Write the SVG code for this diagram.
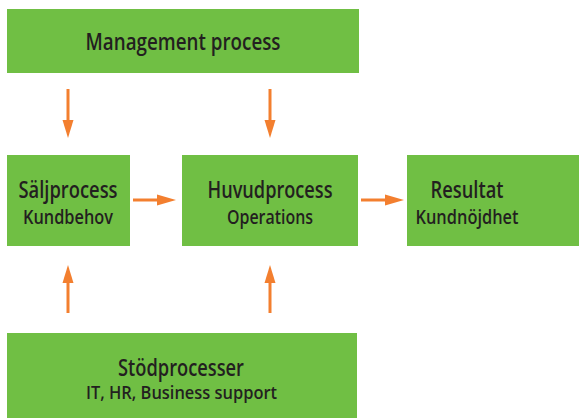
<svg xmlns="http://www.w3.org/2000/svg" width="579" height="418" viewBox="0 0 579 418">
<style>
.box{fill:#70BF44}
.t{font-family:"Open Sans","Liberation Sans",Arial,sans-serif;font-weight:600;fill:#231F20;text-anchor:middle}
.m{font-size:22.5px}
.s{font-size:19px}
.c{stroke:#F37F2F;stroke-width:3;fill:none}
.h{fill:#F37F2F}
</style>
<rect width="579" height="418" fill="#fff"/>
<g id="management">
<rect class="box" x="7" y="9" width="352" height="64"/>
<text class="t m" x="183" y="50" textLength="195" lengthAdjust="spacingAndGlyphs" style="font-size:23px">Management process</text>
</g>
<g id="saljprocess">
<rect class="box" x="7" y="155" width="123" height="91"/>
<text class="t m" x="68" y="198" textLength="99" lengthAdjust="spacingAndGlyphs">Säljprocess</text>
<text class="t s" x="68" y="224" textLength="90" lengthAdjust="spacingAndGlyphs">Kundbehov</text>
</g>
<g id="huvudprocess">
<rect class="box" x="182" y="155" width="176" height="91"/>
<text class="t m" x="270" y="198" textLength="125" lengthAdjust="spacingAndGlyphs">Huvudprocess</text>
<text class="t s" x="270" y="224" textLength="86" lengthAdjust="spacingAndGlyphs">Operations</text>
</g>
<g id="resultat">
<rect class="box" x="407" y="155" width="172" height="91"/>
<text class="t m" x="467" y="198" textLength="73" lengthAdjust="spacingAndGlyphs">Resultat</text>
<text class="t s" x="467" y="224" textLength="103" lengthAdjust="spacingAndGlyphs">Kundnöjdhet</text>
</g>
<g id="stodprocesser">
<rect class="box" x="7" y="333" width="350" height="85"/>
<text class="t m" x="181" y="376" textLength="126" lengthAdjust="spacingAndGlyphs">Stödprocesser</text>
<text class="t s" x="181.5" y="399" textLength="191" lengthAdjust="spacingAndGlyphs" style="font-size:17.5px">IT, HR, Business support</text>
</g>
<g id="connectors">
<line class="c" x1="68" y1="89" x2="68" y2="124"/>
<polygon class="h" points="62.5,120 73.5,120 68,138"/>
<line class="c" x1="270" y1="89" x2="270" y2="124"/>
<polygon class="h" points="264.5,120 275.5,120 270,138"/>
<line class="c" x1="68" y1="313" x2="68" y2="279"/>
<polygon class="h" points="62.5,283 73.5,283 68,265"/>
<line class="c" x1="270" y1="313" x2="270" y2="279"/>
<polygon class="h" points="264.5,283 275.5,283 270,265"/>
<line class="c" x1="133" y1="200" x2="160" y2="200"/>
<polygon class="h" points="157,194.5 157,205.5 176,200"/>
<line class="c" x1="361" y1="200" x2="388" y2="200"/>
<polygon class="h" points="385,194.5 385,205.5 404,200"/>
</g>
</svg>
